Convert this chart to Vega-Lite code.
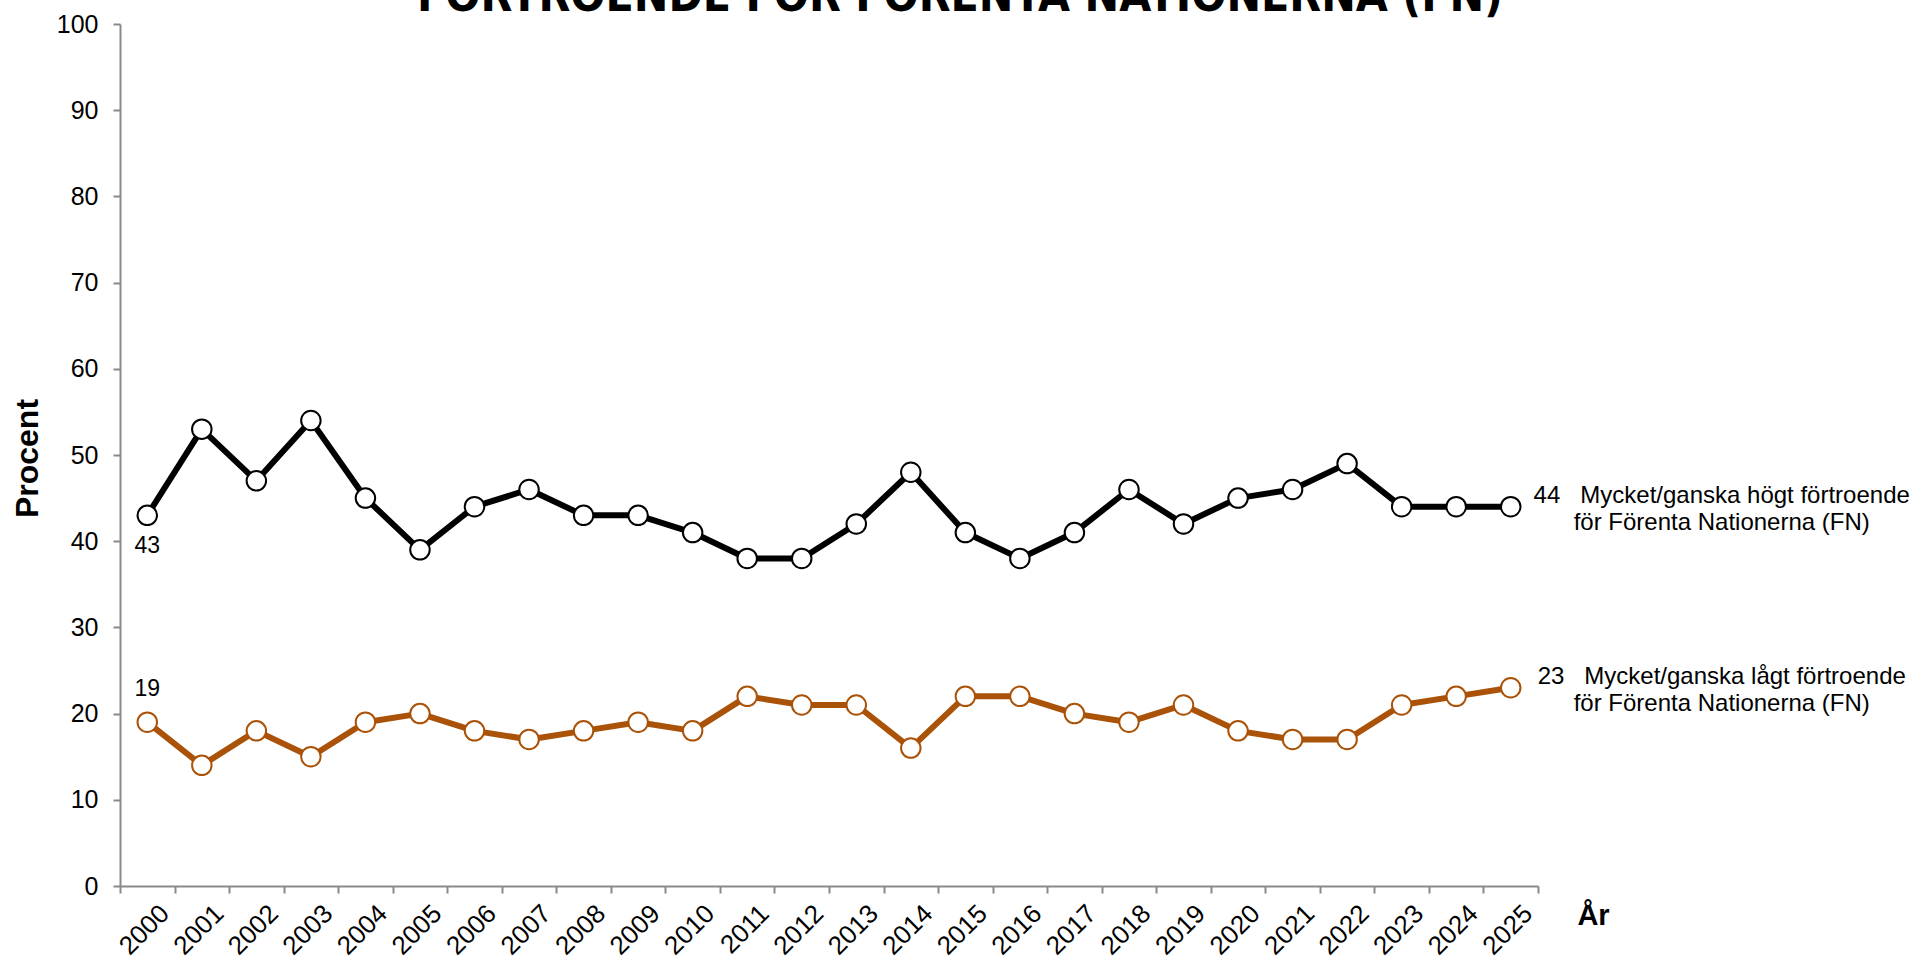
{
  "$schema": "https://vega.github.io/schema/vega-lite/v6.json",
  "autosize": {"type": "none"},
  "width": 1418,
  "height": 862,
  "padding": {"left": 120, "top": 24, "right": 377, "bottom": 75},
  "background": "white",
  "config": {
    "view": {"stroke": null},
    "font": "Liberation Sans",
    "text": {"font": "Liberation Sans", "color": "black"}
  },
  "title": {
    "text": "FÖRTROENDE FÖR FÖRENTA NATIONERNA (FN)",
    "font": "DejaVu Sans Condensed, Liberation Sans, sans-serif",
    "fontSize": 46,
    "fontWeight": "bold",
    "color": "black",
    "anchor": "middle",
    "frame": "group",
    "baseline": "alphabetic",
    "offset": 0,
    "dx": 131,
    "dy": 45
  },
  "datasets": {
    "series": [
      {"year": 2000, "series": "Mycket/ganska högt förtroende", "value": 43},
      {"year": 2001, "series": "Mycket/ganska högt förtroende", "value": 53},
      {"year": 2002, "series": "Mycket/ganska högt förtroende", "value": 47},
      {"year": 2003, "series": "Mycket/ganska högt förtroende", "value": 54},
      {"year": 2004, "series": "Mycket/ganska högt förtroende", "value": 45},
      {"year": 2005, "series": "Mycket/ganska högt förtroende", "value": 39},
      {"year": 2006, "series": "Mycket/ganska högt förtroende", "value": 44},
      {"year": 2007, "series": "Mycket/ganska högt förtroende", "value": 46},
      {"year": 2008, "series": "Mycket/ganska högt förtroende", "value": 43},
      {"year": 2009, "series": "Mycket/ganska högt förtroende", "value": 43},
      {"year": 2010, "series": "Mycket/ganska högt förtroende", "value": 41},
      {"year": 2011, "series": "Mycket/ganska högt förtroende", "value": 38},
      {"year": 2012, "series": "Mycket/ganska högt förtroende", "value": 38},
      {"year": 2013, "series": "Mycket/ganska högt förtroende", "value": 42},
      {"year": 2014, "series": "Mycket/ganska högt förtroende", "value": 48},
      {"year": 2015, "series": "Mycket/ganska högt förtroende", "value": 41},
      {"year": 2016, "series": "Mycket/ganska högt förtroende", "value": 38},
      {"year": 2017, "series": "Mycket/ganska högt förtroende", "value": 41},
      {"year": 2018, "series": "Mycket/ganska högt förtroende", "value": 46},
      {"year": 2019, "series": "Mycket/ganska högt förtroende", "value": 42},
      {"year": 2020, "series": "Mycket/ganska högt förtroende", "value": 45},
      {"year": 2021, "series": "Mycket/ganska högt förtroende", "value": 46},
      {"year": 2022, "series": "Mycket/ganska högt förtroende", "value": 49},
      {"year": 2023, "series": "Mycket/ganska högt förtroende", "value": 44},
      {"year": 2024, "series": "Mycket/ganska högt förtroende", "value": 44},
      {"year": 2025, "series": "Mycket/ganska högt förtroende", "value": 44},
      {"year": 2000, "series": "Mycket/ganska lågt förtroende", "value": 19},
      {"year": 2001, "series": "Mycket/ganska lågt förtroende", "value": 14},
      {"year": 2002, "series": "Mycket/ganska lågt förtroende", "value": 18},
      {"year": 2003, "series": "Mycket/ganska lågt förtroende", "value": 15},
      {"year": 2004, "series": "Mycket/ganska lågt förtroende", "value": 19},
      {"year": 2005, "series": "Mycket/ganska lågt förtroende", "value": 20},
      {"year": 2006, "series": "Mycket/ganska lågt förtroende", "value": 18},
      {"year": 2007, "series": "Mycket/ganska lågt förtroende", "value": 17},
      {"year": 2008, "series": "Mycket/ganska lågt förtroende", "value": 18},
      {"year": 2009, "series": "Mycket/ganska lågt förtroende", "value": 19},
      {"year": 2010, "series": "Mycket/ganska lågt förtroende", "value": 18},
      {"year": 2011, "series": "Mycket/ganska lågt förtroende", "value": 22},
      {"year": 2012, "series": "Mycket/ganska lågt förtroende", "value": 21},
      {"year": 2013, "series": "Mycket/ganska lågt förtroende", "value": 21},
      {"year": 2014, "series": "Mycket/ganska lågt förtroende", "value": 16},
      {"year": 2015, "series": "Mycket/ganska lågt förtroende", "value": 22},
      {"year": 2016, "series": "Mycket/ganska lågt förtroende", "value": 22},
      {"year": 2017, "series": "Mycket/ganska lågt förtroende", "value": 20},
      {"year": 2018, "series": "Mycket/ganska lågt förtroende", "value": 19},
      {"year": 2019, "series": "Mycket/ganska lågt förtroende", "value": 21},
      {"year": 2020, "series": "Mycket/ganska lågt förtroende", "value": 18},
      {"year": 2021, "series": "Mycket/ganska lågt förtroende", "value": 17},
      {"year": 2022, "series": "Mycket/ganska lågt förtroende", "value": 17},
      {"year": 2023, "series": "Mycket/ganska lågt förtroende", "value": 21},
      {"year": 2024, "series": "Mycket/ganska lågt förtroende", "value": 22},
      {"year": 2025, "series": "Mycket/ganska lågt förtroende", "value": 23}
    ],
    "notes": [
      {"kind": "below", "year": 2000, "value": 43, "text": "43"},
      {"kind": "above", "year": 2000, "value": 19, "text": "19"},
      {"kind": "end", "year": 2025, "value": 44, "text": ["44\u00a0\u00a0\u00a0Mycket/ganska högt förtroende", "för Förenta Nationerna (FN)"]},
      {"kind": "end", "year": 2025, "value": 23, "text": ["23\u00a0\u00a0\u00a0Mycket/ganska lågt förtroende", "för Förenta Nationerna (FN)"]}
    ]
  },
  "data": {"name": "series"},
  "resolve": {"axis": {"x": "independent", "y": "independent"}},
  "layer": [
    {
      "mark": {"type": "line", "strokeWidth": 6, "strokeJoin": "round"},
      "encoding": {
        "x": {
          "field": "year", "type": "quantitative",
          "scale": {"domain": [1999.5, 2025.5], "nice": false, "zero": false},
          "axis": {
            "orient": "bottom",
            "values": [1999.5, 2000.5, 2001.5, 2002.5, 2003.5, 2004.5, 2005.5, 2006.5, 2007.5, 2008.5, 2009.5, 2010.5, 2011.5, 2012.5, 2013.5, 2014.5, 2015.5, 2016.5, 2017.5, 2018.5, 2019.5, 2020.5, 2021.5, 2022.5, 2023.5, 2024.5, 2025.5],
            "labels": false,
            "grid": false,
            "ticks": true,
            "tickSize": 7,
            "tickColor": "#898989",
            "tickWidth": 2,
            "domainColor": "#898989",
            "domainWidth": 2,
            "title": "År",
            "titleFont": "Liberation Sans",
            "titleFontSize": 29,
            "titleFontWeight": "bold",
            "titleColor": "black",
            "titleAlign": "center",
            "titleBaseline": "alphabetic",
            "titleAnchor": null,
            "titleX": 1473,
            "titleY": 38
          }
        },
        "y": {
          "field": "value", "type": "quantitative",
          "scale": {"domain": [0, 100], "nice": false},
          "axis": {
            "orient": "left",
            "values": [0, 10, 20, 30, 40, 50, 60, 70, 80, 90, 100],
            "grid": false,
            "tickSize": 7,
            "tickColor": "#898989",
            "tickWidth": 2,
            "domainColor": "#898989",
            "domainWidth": 2,
            "labelFont": "Liberation Sans",
            "labelFontSize": 25,
            "labelColor": "black",
            "labelPadding": 15,
            "title": "Procent",
            "titleFont": "Liberation Sans",
            "titleFontSize": 32,
            "titleFontWeight": "bold",
            "titleColor": "black",
            "titleAngle": -90,
            "titleAlign": "center",
            "titleBaseline": "middle",
            "titleAnchor": null,
            "titleX": -93,
            "titleY": 434
          }
        },
        "color": {
          "field": "series", "type": "nominal",
          "scale": {"domain": ["Mycket/ganska högt förtroende", "Mycket/ganska lågt förtroende"], "range": ["#000000", "#AA5208"]},
          "legend": null
        }
      }
    },
    {
      "mark": {"type": "point", "shape": "circle", "filled": false, "fill": "white", "fillOpacity": 1, "opacity": 1, "strokeWidth": 2, "size": 380},
      "encoding": {
        "x": {
          "field": "year", "type": "quantitative",
          "scale": {"domain": [1999.5, 2025.5], "nice": false, "zero": false},
          "axis": {
            "orient": "bottom",
            "values": [2000, 2001, 2002, 2003, 2004, 2005, 2006, 2007, 2008, 2009, 2010, 2011, 2012, 2013, 2014, 2015, 2016, 2017, 2018, 2019, 2020, 2021, 2022, 2023, 2024, 2025],
            "format": "d",
            "grid": false,
            "ticks": false,
            "domain": false,
            "labelAngle": -45,
            "labelAlign": "right",
            "labelBaseline": "top",
            "labelFont": "Liberation Sans",
            "labelFontSize": 26,
            "labelColor": "black",
            "labelPadding": 14,
            "labelOffset": 8,
            "labelOverlap": false,
            "labelFlush": false,
            "title": null
          }
        },
        "y": {"field": "value", "type": "quantitative", "axis": null},
        "color": {"field": "series", "type": "nominal", "legend": null}
      }
    },
    {
      "data": {"name": "notes"},
      "transform": [{"filter": "datum.kind === 'below'"}],
      "mark": {"type": "text", "fontSize": 23, "align": "center", "baseline": "alphabetic", "dy": 38},
      "encoding": {
        "x": {"field": "year", "type": "quantitative", "axis": null},
        "y": {"field": "value", "type": "quantitative", "axis": null},
        "text": {"field": "text"}
      }
    },
    {
      "data": {"name": "notes"},
      "transform": [{"filter": "datum.kind === 'above'"}],
      "mark": {"type": "text", "fontSize": 23, "align": "center", "baseline": "alphabetic", "dy": -26},
      "encoding": {
        "x": {"field": "year", "type": "quantitative", "axis": null},
        "y": {"field": "value", "type": "quantitative", "axis": null},
        "text": {"field": "text"}
      }
    },
    {
      "data": {"name": "notes"},
      "transform": [{"filter": "datum.kind === 'end'"}],
      "mark": {"type": "text", "fontSize": 24, "align": "center", "baseline": "alphabetic", "dx": 211, "dy": -4, "lineHeight": 27},
      "encoding": {
        "x": {"field": "year", "type": "quantitative", "axis": null},
        "y": {"field": "value", "type": "quantitative", "axis": null},
        "text": {"field": "text"}
      }
    }
  ]
}
